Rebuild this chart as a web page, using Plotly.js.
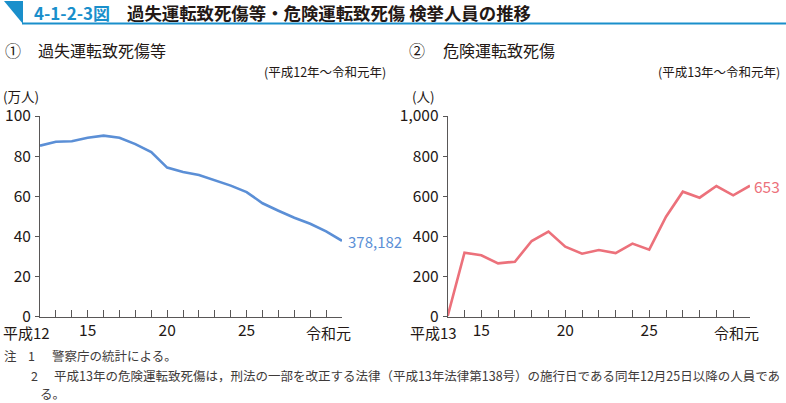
<!DOCTYPE html>
<html>
<head>
<meta charset="utf-8">
<script src="https://cdn.plot.ly/plotly-3.0.1.min.js"></script>
<style>html,body{margin:0;padding:0;background:#fff;}#chart{width:786px;height:403px;}</style>
</head>
<body>
<div id="chart"></div>
<script>
// ---- data ----
const years1 = [12,13,14,15,16,17,18,19,20,21,22,23,24,25,26,27,28,29,30,31];
const negligent = [85.2,87.2,87.4,89.2,90.2,89.2,86.0,82.0,74.3,72.1,70.6,68.1,65.3,62.1,56.5,52.8,49.3,46.3,42.5,37.8182];
const xLabels1 = ['','','','15','','','','','20','','','','','25','','','','','',''];
const xEnd1 = [12,31];
const xEndLabels1 = ['平成12','令和元'];
const endLabel1 = '378,182';

const years2 = [13,14,15,16,17,18,19,20,21,22,23,24,25,26,27,28,29,30,31];
const dangerous = [4,319,306,266,274,377,424,349,314,332,317,364,334,498,623,593,651,605,653];
const xLabels2 = ['','','15','','','','','20','','','','','25','','','','','',''];
const xEnd2 = [13,31];
const xEndLabels2 = ['平成13','令和元'];
const endLabel2 = '653';

// ---- helpers ----
const W = 786, H = 403;
const px = x => x / W;
const py = y => 1 - y / H;
const FONT = '"Noto Sans CJK JP", "Noto Sans", sans-serif';
const TXT = '#231815';
const AX = '#595757';
const BLUE = '#5b8fd6';
const RED = '#ec717b';
const HEAD = '#1a8fcb';
const NOTE = '#3e3a39';
const TICK = 15.5;

const yDom = [py(316.7), py(116)];

const traces = [
  {x: years1, y: negligent, xaxis: 'x', yaxis: 'y', type: 'scatter', mode: 'lines',
   line: {color: BLUE, width: 2.6}, hoverinfo: 'skip', showlegend: false},
  {x: years2, y: dangerous, xaxis: 'x2', yaxis: 'y2', type: 'scatter', mode: 'lines',
   line: {color: RED, width: 2.6}, hoverinfo: 'skip', showlegend: false}
];

const tickFont = {family: FONT, size: TICK, color: TXT};
const baseX = {
  tickmode: 'array', ticks: 'inside', ticklen: 7, tickwidth: 1, tickcolor: AX,
  showline: true, linecolor: AX, linewidth: 1, showgrid: false, zeroline: false,
  tickfont: tickFont, fixedrange: true, ticklabelstandoff: 0
};
const baseY = {
  ticks: 'outside', ticklen: 4, tickwidth: 1, tickcolor: AX,
  showline: true, linecolor: AX, linewidth: 1, showgrid: false, zeroline: false,
  tickfont: tickFont, fixedrange: true, domain: yDom, ticklabelstandoff: 1
};

function ann(text, x, y, size, opts) {
  return Object.assign({
    text: text, xref: 'paper', yref: 'paper', x: px(x), y: py(y),
    xanchor: 'left', yanchor: 'middle', showarrow: false,
    font: {family: FONT, size: size, color: TXT}
  }, opts || {});
}
function note(text, x, y) {
  return ann(text, x, y, 12.5, {font: {family: FONT, size: 12.5, color: NOTE}});
}
function endTick(text, xref, xv) {
  return {text: text, xref: xref, yref: 'paper', x: xv, y: py(332),
    xanchor: 'center', yanchor: 'middle', xshift: -14, showarrow: false, borderpad: 0,
    font: {family: FONT, size: 15, color: TXT}};
}

const annotations = [
  ann('4-1-2-3図', 32, 13, 17, {font: {family: FONT, size: 17, color: HEAD, weight: 'bold'}}),
  ann('過失運転致死傷等・危険運転致死傷 検挙人員の推移', 125, 13, 17.4, {font: {family: FONT, size: 17.4, color: TXT, weight: 'bold'}}),
  ann('①', 3, 50, 16),
  ann('過失運転致死傷等', 36, 50, 16),
  ann('②', 407, 50, 16),
  ann('危険運転致死傷', 441, 50, 16),
  ann('(平成12年～令和元年)', 388, 71, 12.5, {xanchor: 'right'}),
  ann('(平成13年～令和元年)', 782, 71, 12.5, {xanchor: 'right'}),
  ann('(万人)', 2, 96, 13.5, {borderpad: 0}),
  ann('(人)', 411, 96, 13.5, {borderpad: 0}),
  endTick(xEndLabels1[0], 'x', xEnd1[0]),
  endTick(xEndLabels1[1], 'x', xEnd1[1]),
  endTick(xEndLabels2[0], 'x2', xEnd2[0]),
  endTick(xEndLabels2[1], 'x2', xEnd2[1]),
  {text: endLabel1, xref: 'x', yref: 'y', x: 31, y: negligent[negligent.length - 1],
   xanchor: 'left', yanchor: 'middle', xshift: 4, yshift: -1, showarrow: false,
   font: {family: FONT, size: 15, color: BLUE}},
  {text: endLabel2, xref: 'x2', yref: 'y2', x: 31, y: dangerous[dangerous.length - 1],
   xanchor: 'left', yanchor: 'middle', xshift: 2, showarrow: false,
   font: {family: FONT, size: 15.5, color: RED}},
  note('注', 2, 355),
  note('1', 26, 355),
  note('警察庁の統計による。', 50, 355),
  note('2', 29, 375),
  note('平成13年の危険運転致死傷は，刑法の一部を改正する法律（平成13年法律第138号）の施行日である同年12月25日以降の人員であ', 52, 375),
  note('る。', 38, 393)
];

const shapes = [
  {type: 'path', xref: 'paper', yref: 'paper',
   path: `M ${px(4)} ${py(1)} L ${px(23)} ${py(1)} L ${px(23)} ${py(24)} Z`,
   fillcolor: HEAD, line: {width: 0}},
  {type: 'line', xref: 'paper', yref: 'paper', x0: px(22), x1: px(786), y0: py(23.5), y1: py(23.5),
   line: {color: HEAD, width: 2}}
];

const layout = {
  width: W, height: H,
  margin: {l: 0, r: 0, t: 0, b: 0, pad: 0},
  paper_bgcolor: '#ffffff', plot_bgcolor: 'rgba(0,0,0,0)',
  showlegend: false,
  font: {family: FONT, color: TXT},
  xaxis: Object.assign({}, baseX, {domain: [px(40), px(342)], range: [12, 31], anchor: 'y',
    tickvals: years1, ticktext: xLabels1}),
  yaxis: Object.assign({}, baseY, {range: [0, 100], anchor: 'x', tickvals: [0,20,40,60,80,100]}),
  xaxis2: Object.assign({}, baseX, {domain: [px(447.7), px(750)], range: [13, 31], anchor: 'y2',
    tickvals: years2, ticktext: xLabels2}),
  yaxis2: Object.assign({}, baseY, {range: [0, 1000], anchor: 'x2', tickvals: [0,200,400,600,800,1000],
    tickformat: ',d'}),
  annotations: annotations,
  shapes: shapes
};

Plotly.newPlot('chart', traces, layout, {staticPlot: true, displayModeBar: false});
</script>
</body>
</html>
